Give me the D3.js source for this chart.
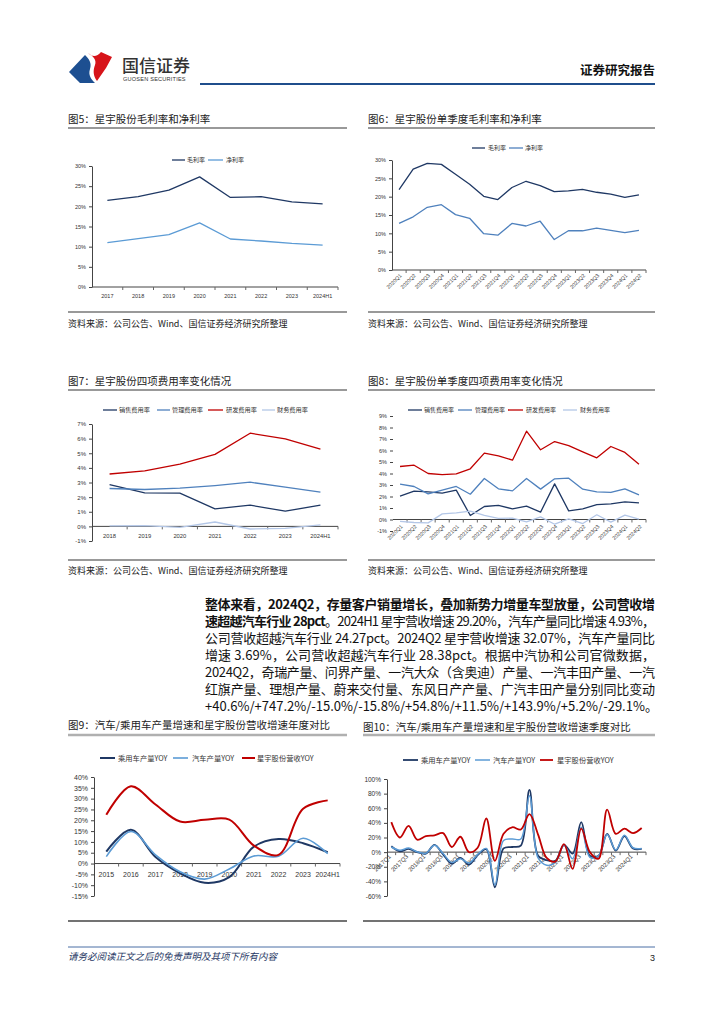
<!DOCTYPE html>
<html><head><meta charset="utf-8">
<script src="https://cdn.jsdelivr.net/npm/d3@7"></script>
<style>
body{margin:0;background:#fff;}
svg{display:block;font-family:"Noto Sans CJK SC","Liberation Sans",sans-serif;}
</style></head><body>
<svg id="page" width="724" height="1024"></svg>
<script>
// ---------------- DATA ----------------
const fig5Cats = ["2017","2018","2019","2020","2021","2022","2023","2024H1"];
const fig5Gross = [21.5,22.4,24.0,27.3,22.2,22.4,21.1,20.6];
const fig5Net = [11.0,12.0,13.0,15.9,11.9,11.4,10.8,10.4];

const fig6Cats = ["2020Q1","2020Q2","2020Q3","2020Q4","2021Q1","2021Q2","2021Q3","2021Q4","2022Q1","2022Q2","2022Q3","2022Q4","2023Q1","2023Q2","2023Q3","2023Q4","2024Q1","2024Q2"];
const fig6Gross = [21.9,27.5,29.1,28.8,26.1,23.4,20.1,19.2,22.5,24.2,23.0,21.4,21.6,22.0,21.2,20.7,19.8,20.5];
const fig6Net = [12.7,14.5,17.1,17.8,15.1,14.1,9.9,9.5,12.7,12.0,13.3,8.3,10.7,10.7,11.4,10.8,10.2,10.8];

const fig7Cats = ["2018","2019","2020","2021","2022","2023","2024H1"];
const fig7Sales = [2.86,2.29,2.27,1.20,1.45,1.04,1.45];
const fig7Admin = [2.59,2.52,2.61,2.79,3.02,2.68,2.34];
const fig7RD = [3.58,3.79,4.26,4.92,6.37,5.99,5.28];
const fig7Fin = [0.03,0.05,-0.07,0.30,-0.18,-0.14,0.10];

const fig8Cats = fig6Cats;
const fig8Sales = [2.03,2.46,2.41,2.29,2.55,0.35,1.13,1.22,0.93,1.16,0.64,3.10,0.75,0.93,1.30,1.36,1.54,1.45];
const fig8Admin = [3.07,2.87,2.23,2.55,2.87,2.20,3.57,2.67,2.49,3.57,2.64,3.54,3.59,2.64,2.41,2.35,2.67,2.14];
const fig8RD = [4.61,4.72,4.00,3.91,3.97,4.41,5.77,5.54,5.16,7.68,6.06,6.78,6.43,5.88,5.36,6.35,5.83,4.81];
const fig8Fin = [-0.17,-0.26,-0.29,0.49,0.58,0.72,0.35,0.09,0.12,-0.20,0.23,-0.41,0.06,-0.35,0.41,-0.23,0.38,0.03];

const fig9Cats = ["2015","2016","2017","2018","2019","2020","2021","2022","2023","2024H1"];
const fig9Passenger = [5.5,15.6,3.0,-4.5,-8.9,-6.3,7.8,11.3,9.4,5.2];
const fig9Auto = [3.2,14.8,4.0,-3.8,-7.2,-2.5,3.5,3.4,11.7,4.6];
const fig9Xingyu = [22.5,35.7,27.3,19.4,20.2,20.3,8.3,4.0,25.3,29.2];

const fig10Cats = ["2017Q1","2017Q2","2017Q3","2017Q4","2018Q1","2018Q2","2018Q3","2018Q4","2019Q1","2019Q2","2019Q3","2019Q4","2020Q1","2020Q2","2020Q3","2020Q4","2021Q1","2021Q2","2021Q3","2021Q4","2022Q1","2022Q2","2022Q3","2022Q4","2023Q1","2023Q2","2023Q3","2023Q4","2024Q1","2024Q2"];
const fig10Passenger = [8,1,4.5,0,-2,10,-3,-16,-8,-17,-4,4,-48,5,7,9,85,-5,-11,-12,10,-2,41,-5,-5,25,2,22,5,4.5];
const fig10Auto = [7,2.5,5.5,0.5,-1.5,9.5,-2,-14,-9,-15,-3,5,-45,16,18,18,77,-8,-18,-14,9,-9,34,-7,-5,24,3,23,6,5];
const fig10Xingyu = [41,20,36,17,22,23,26,7,21,0,6,46,-12,25,34,31,52,24,-8,-13,11,-23,32,0,-9,58,25,32,26,33];

const fig5Ticks = [0,5,10,15,20,25,30];
const fig7Ticks = [-1,0,1,2,3,4,5,6,7];
const fig8Ticks = [-1,0,1,2,3,4,5,6,7,8,9];
const fig9Ticks = [-15,-10,-5,0,5,10,15,20,25,30,35,40];
const fig10Ticks = [-60,-40,-20,0,20,40,60,80,100];

// ---------------- STYLE ----------------
const NAVY = "#1f3864", BLUE = "#4f81bd", LBLUE = "#5b9bd5", PALE = "#b4c7e7", RED = "#c00000";
const svg = d3.select("#page");
const LATIN = "'Liberation Sans', Arial, sans-serif";

// ---------------- HEADER ----------------
const hdr = svg.append("g");
hdr.append("path").attr("d","M69,72 L85,55 C89,59 92,63 90,69 C88,75 91,79 95,83 L80,83 Z").attr("fill","#1d4f91");
hdr.append("path").attr("d","M88,53 C92,57 97,57 101,52 L112,57 L106,68 L97,81 C93,76 93,70 95,65 C97,60 93,56 88,53 Z").attr("fill","#d7141a");
hdr.append("text").attr("x",122).attr("y",72).attr("font-size",17).attr("fill","#333").attr("font-weight",500).text("国信证券");
hdr.append("text").attr("x",123).attr("y",81).attr("font-size",5.6).attr("fill","#333").attr("font-family",LATIN).attr("letter-spacing",0.2).text("GUOSEN SECURITIES");
hdr.append("text").attr("x",655).attr("y",75).attr("text-anchor","end").attr("font-size",12.5).attr("font-weight",700).attr("fill","#111").text("证券研究报告");
hdr.append("line").attr("x1",200).attr("x2",655).attr("y1",84).attr("y2",84).attr("stroke","#1f4e8c").attr("stroke-width",2);

// ---------------- CHART FRAMES ----------------
function frame(x0, x1, title, titleY, lineY, srcLineY, heavy) {
  svg.append("text").attr("x",x0).attr("y",titleY).attr("font-size",10.5).attr("fill","#222").text(title);
  svg.append("line").attr("x1",x0).attr("x2",x1).attr("y1",lineY).attr("y2",lineY)
    .attr("stroke", heavy ? "#b0b0b0" : "#777").attr("stroke-width", heavy ? 2.5 : 1.3);
  if (srcLineY) {
    svg.append("line").attr("x1",x0).attr("x2",x1).attr("y1",srcLineY).attr("y2",srcLineY).attr("stroke","#777").attr("stroke-width",1.3);
  }
}
function source(x0, y) {
  svg.append("text").attr("x",x0).attr("y",y).attr("font-size",9).attr("fill","#222").text("资料来源：公司公告、Wind、国信证券经济研究所整理");
}

function drawChart(c) {
  const g = svg.append("g");
  const x = d3.scaleBand().domain(c.cats).range([c.x0, c.x1]);
  const bw = x.bandwidth();
  const y = d3.scaleLinear().domain(c.yDomain).range([c.yBottom, c.yTop]);
  const ya = g.append("g").attr("transform",`translate(${c.x0},0)`)
    .call(d3.axisLeft(y).tickValues(c.yTicks).tickSize(3).tickSizeOuter(0).tickFormat(d => d + "%"));
  ya.selectAll("text").attr("font-size",c.tickFont).attr("fill","#333").attr("font-family",LATIN);
  ya.select(".domain").attr("stroke", c.yLine ? "#444" : "none");
  ya.selectAll(".tick line").attr("stroke","#444");
  const y0 = y(c.xAt);
  g.append("line").attr("x1",c.x0).attr("x2",c.x1).attr("y1",y0).attr("y2",y0).attr("stroke","#444").attr("stroke-width",1);
  const bounds = c.cats.map(d => x(d)).concat([c.x1]).slice(1);
  g.selectAll(".bt").data(bounds).enter().append("line")
    .attr("x1",d=>d).attr("x2",d=>d).attr("y1",y0).attr("y2",y0+3).attr("stroke","#666");
  // labels
  c.cats.forEach((d,i) => {
    if (c.labelEvery && i % c.labelEvery) return;
    const cx = x(d) + bw/2;
    if (c.rotate) {
      g.append("text").attr("transform",`translate(${cx + c.rotDx},${c.labelY}) rotate(-45)`)
        .attr("text-anchor","end").attr("font-size",c.xFont).attr("fill","#333").attr("font-family",LATIN).text(d);
    } else {
      g.append("text").attr("x",cx).attr("y",c.labelY).attr("text-anchor","middle")
        .attr("font-size",c.xFont).attr("fill","#333").attr("font-family",LATIN).text(d);
    }
  });
  c.series.forEach(s => {
    const line = d3.line().x((v,i) => x(c.cats[i]) + bw/2).y(v => y(v)).curve(c.curve || d3.curveLinear);
    g.append("path").attr("d", line(s.values)).attr("fill","none").attr("stroke",s.color)
      .attr("stroke-width",s.w || c.lineW).attr("stroke-linejoin","round");
  });
  // legend
  c.series.forEach((s,i) => {
    const L = c.legend[i];
    g.append("line").attr("x1",L[0]).attr("x2",L[1]).attr("y1",c.legendY).attr("y2",c.legendY)
      .attr("stroke",s.color).attr("stroke-width",s.w || c.lineW);
    g.append("text").attr("x",L[2]).attr("y",c.legendY + c.legendFont*0.36).attr("font-size",c.legendFont).attr("fill","#333").text(s.name);
  });
}

// Figure 5
frame(68,347,"图5：星宇股份毛利率和净利率",123,128,312);
drawChart({cats:fig5Cats, x0:92, x1:338, yDomain:[0,30], yBottom:287, yTop:166, yTicks:fig5Ticks, yLine:true,
  xAt:0, tickFont:5.5, xFont:5.5, labelY:298, lineW:1.3, legendY:160, legendFont:6,
  legend:[[172,185,187],[208,223,226]],
  series:[{name:"毛利率",values:fig5Gross,color:NAVY},{name:"净利率",values:fig5Net,color:LBLUE}]});
source(68,327);

// Figure 6
frame(368,655,"图6：星宇股份单季度毛利率和净利率",123,128,312);
drawChart({cats:fig6Cats, x0:392, x1:646, yDomain:[0,30], yBottom:270, yTop:160, yTicks:fig5Ticks, yLine:true,
  xAt:0, tickFont:5.5, xFont:5.3, labelY:276, rotate:true, rotDx:3, lineW:1.3, legendY:148, legendFont:6,
  legend:[[472,485,488],[509,523,525]],
  series:[{name:"毛利率",values:fig6Gross,color:NAVY},{name:"净利率",values:fig6Net,color:BLUE}]});
source(368,327);

// Figure 7
frame(68,347,"图7：星宇股份四项费用率变化情况",385,390,560);
drawChart({cats:fig7Cats, x0:92, x1:338, yDomain:[-1,7], yBottom:541, yTop:424, yTicks:fig7Ticks, yLine:true,
  xAt:0, tickFont:6, xFont:5.8, labelY:538, lineW:1.3, legendY:410, legendFont:6.2,
  legend:[[103,117,119],[157,170,172],[208,223,226],[262,275,277]],
  series:[{name:"销售费用率",values:fig7Sales,color:NAVY},{name:"管理费用率",values:fig7Admin,color:BLUE},
          {name:"研发费用率",values:fig7RD,color:RED},{name:"财务费用率",values:fig7Fin,color:PALE}]});
source(68,574);

// Figure 8
frame(368,655,"图8：星宇股份单季度四项费用率变化情况",385,390,560);
drawChart({cats:fig8Cats, x0:393, x1:646, yDomain:[-1,9], yBottom:531, yTop:416, yTicks:fig8Ticks, yLine:false,
  xAt:0, tickFont:5.5, xFont:5.3, labelY:527, rotate:true, rotDx:3, lineW:1.3, legendY:410, legendFont:6,
  legend:[[408,422,424],[458,472,475],[508,523,526],[563,577,580]],
  series:[{name:"销售费用率",values:fig8Sales,color:NAVY},{name:"管理费用率",values:fig8Admin,color:BLUE},
          {name:"研发费用率",values:fig8RD,color:RED},{name:"财务费用率",values:fig8Fin,color:PALE}]});
source(368,574);

// ---------------- PARAGRAPH ----------------
const paraLines = [
  [{t:"整体来看，2024Q2，存量客户销量增长，叠加新势力增量车型放量，公司营收增",b:true}],
  [{t:"速超越汽车行业 28pct",b:true},{t:"。2024H1 星宇营收增速 29.20%，汽车产量同比增速 4.93%，",b:false}],
  [{t:"公司营收超越汽车行业 24.27pct。2024Q2 星宇营收增速 32.07%，汽车产量同比",b:false}],
  [{t:"增速 3.69%，公司营收超越汽车行业 28.38pct。根据中汽协和公司官微数据，",b:false}],
  [{t:"2024Q2，奇瑞产量、问界产量、一汽大众（含奥迪）产量、一汽丰田产量、一汽",b:false}],
  [{t:"红旗产量、理想产量、蔚来交付量、东风日产产量、广汽丰田产量分别同比变动",b:false}],
  [{t:"+40.6%/+747.2%/-15.0%/-15.8%/+54.8%/+11.5%/+143.9%/+5.2%/-29.1%。",b:false}]
];
paraLines.forEach((ln,i) => {
  const t = svg.append("text").attr("x",205).attr("y",609 + i*17).attr("font-size",13).attr("fill","#111");
  if (i < paraLines.length - 1) t.attr("textLength",450).attr("lengthAdjust","spacing");
  ln.forEach(p => t.append("tspan").attr("font-weight", p.b ? 700 : 400).text(p.t));
});

// Figure 9
frame(68,347,"图9：汽车/乘用车产量增速和星宇股份营收增速年度对比",729,735,null,true);
drawChart({cats:fig9Cats, x0:94, x1:340, yDomain:[-15,40], yBottom:896, yTop:777, yTicks:fig9Ticks, yLine:true,
  xAt:0, tickFont:7, xFont:7, labelY:877, lineW:1.8, legendY:758, legendFont:7.3, curve:d3.curveCatmullRom.alpha(0.5),
  legend:[[100,115,118],[173,188,192],[242,255,257]],
  series:[{name:"乘用车产量YOY",values:fig9Passenger,color:NAVY,w:2},{name:"汽车产量YOY",values:fig9Auto,color:LBLUE,w:1.6},
          {name:"星宇股份营收YOY",values:fig9Xingyu,color:RED,w:2}]});
svg.append("line").attr("x1",68).attr("x2",347).attr("y1",921).attr("y2",921).attr("stroke","#444").attr("stroke-width",1.5);

// Figure 10
frame(363,655,"图10：汽车/乘用车产量增速和星宇股份营收增速季度对比",731,735,null,true);
drawChart({cats:fig10Cats, x0:387, x1:646, yDomain:[-60,100], yBottom:896, yTop:779, yTicks:fig10Ticks, yLine:true,
  xAt:0, tickFont:6.5, xFont:6, labelY:857, rotate:true, rotDx:0, labelEvery:2, lineW:1.6, legendY:760, legendFont:7.3,
  curve:d3.curveCatmullRom.alpha(0.5),
  legend:[[403,418,421],[475,490,493],[540,553,557]],
  series:[{name:"乘用车产量YOY",values:fig10Passenger,color:NAVY,w:1.8},{name:"汽车产量YOY",values:fig10Auto,color:LBLUE,w:1.5},
          {name:"星宇股份营收YOY",values:fig10Xingyu,color:RED,w:1.8}]});
svg.append("line").attr("x1",363).attr("x2",655).attr("y1",921).attr("y2",921).attr("stroke","#444").attr("stroke-width",1.5);

// ---------------- FOOTER ----------------
svg.append("line").attr("x1",68).attr("x2",655).attr("y1",947).attr("y2",947).attr("stroke","#4a6fa5").attr("stroke-width",1);
svg.append("text").attr("x",68).attr("y",960).attr("font-size",9.5).attr("font-style","italic").attr("fill","#1f3864").text("请务必阅读正文之后的免责声明及其项下所有内容");
svg.append("text").attr("x",655).attr("y",961).attr("text-anchor","end").attr("font-size",9).attr("fill","#222").attr("font-family",LATIN).text("3");
</script>
</body></html>
